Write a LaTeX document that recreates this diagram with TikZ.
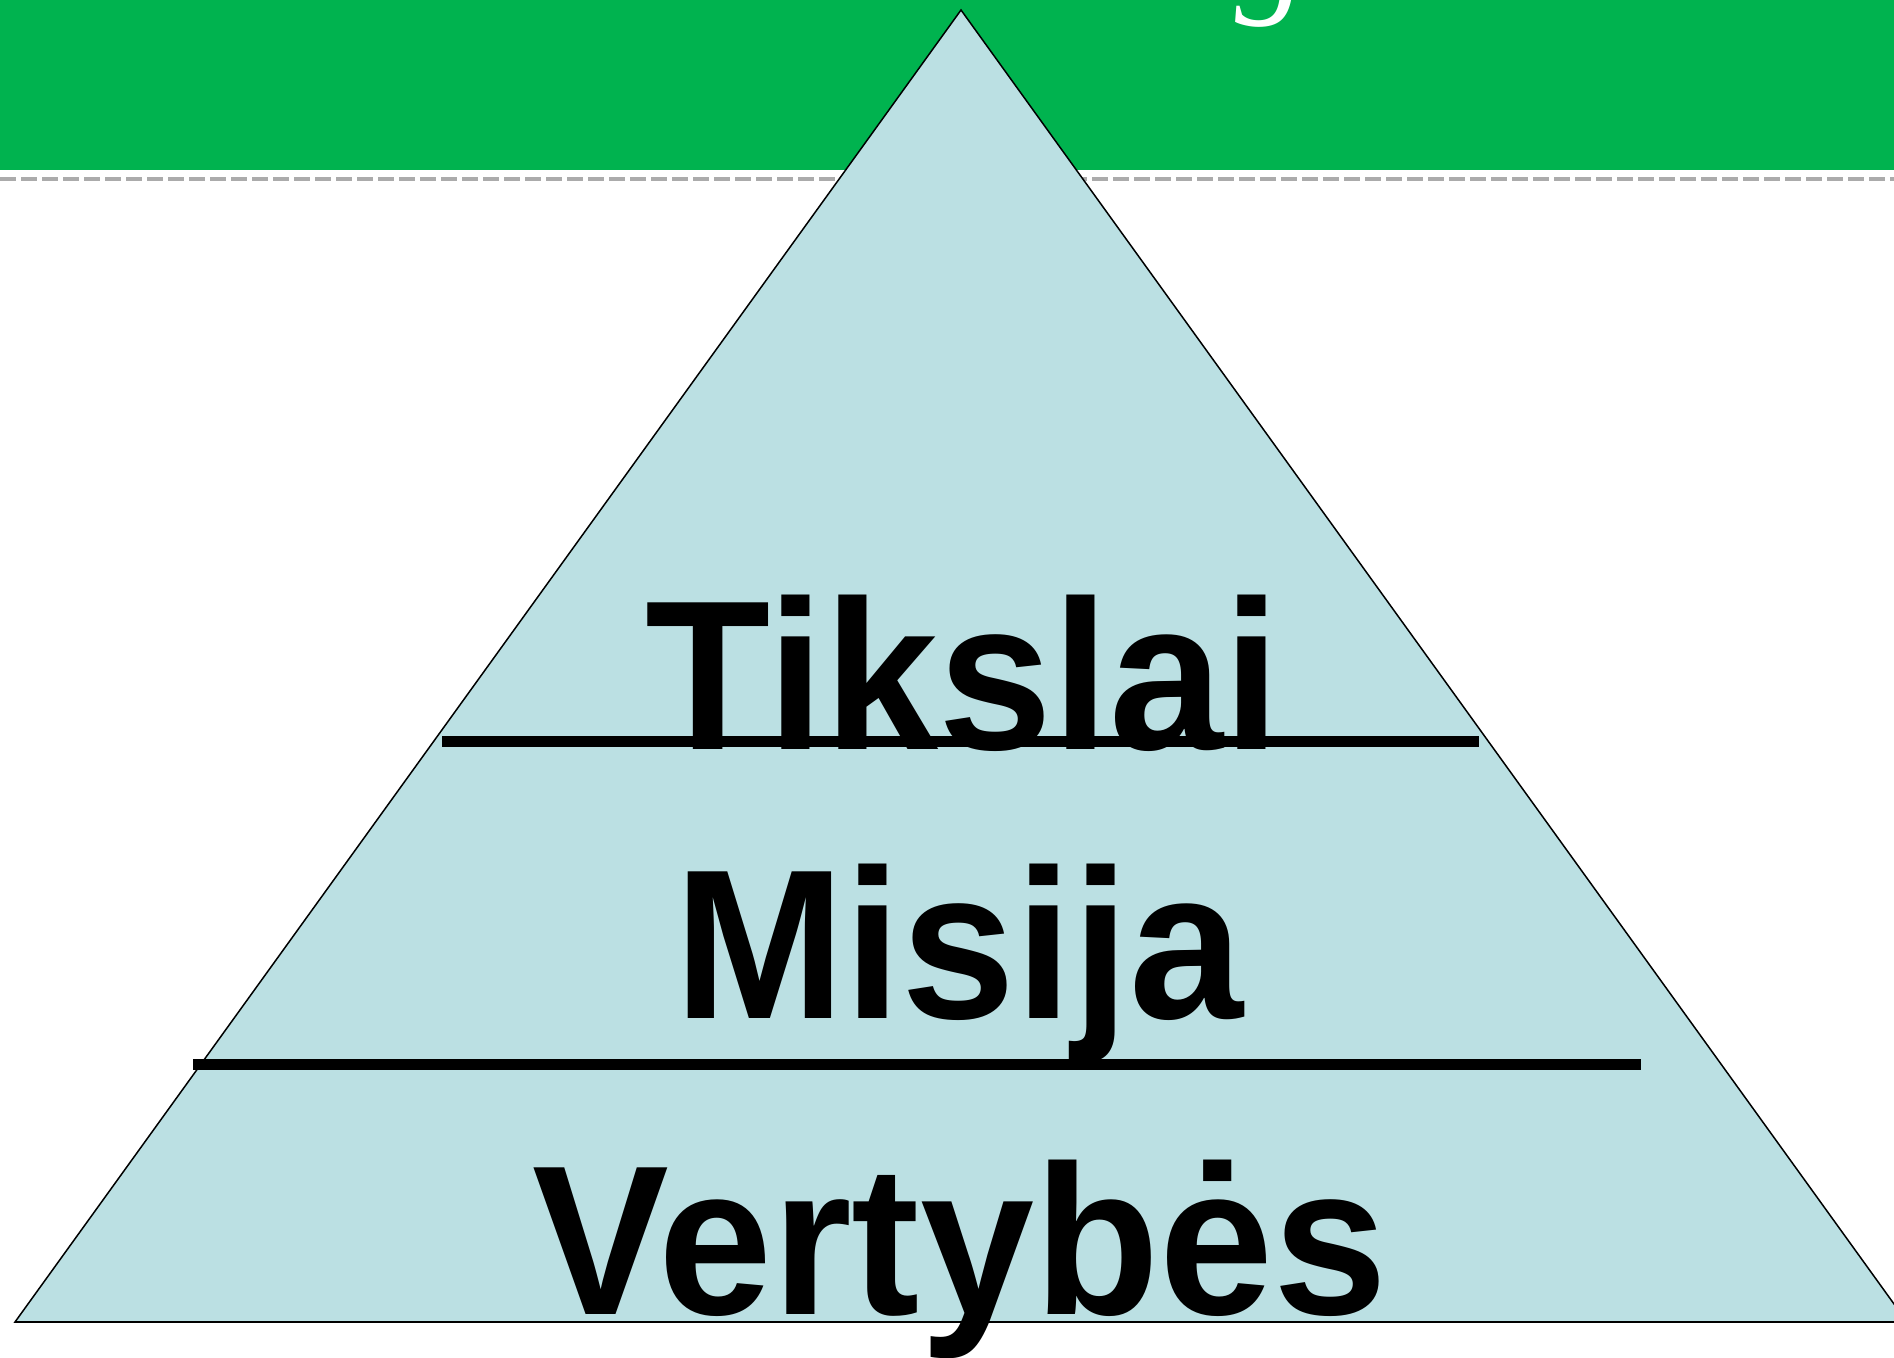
\documentclass[tikz,border=0pt]{standalone}
\usepackage{fontspec}
\setmainfont{Liberation Sans}
\newfontfamily\titlefont{Liberation Serif}
\definecolor{hdrgreen}{HTML}{00B34F}
\definecolor{pyrfill}{HTML}{BBE0E3}
\definecolor{dashgray}{HTML}{ABABAB}
\newcommand{\tallword}[1]{\scalebox{1}[1.04]{#1}}
\begin{document}
\begin{tikzpicture}[x=1pt,y=-1pt,
  levellabel/.style={anchor=base,inner sep=0pt,font=\fontsize{205}{240}\selectfont\bfseries},
  divider/.style={line width=11pt,black}]
\useasboundingbox (0,0) rectangle (1894,1357);
\clip (0,0) rectangle (1894,1357);
\fill[white] (0,0) rectangle (1894,1357);
\fill[hdrgreen] (0,0) rectangle (1894,170);
\draw[dashgray,line width=3.2pt,dash pattern=on 16pt off 5pt] (0,179) -- (1894,179);
\node[text=white,inner sep=0pt,anchor=base,font=\titlefont\itshape\fontsize{145}{165}\selectfont] (titleg) at (1272,-3) {g};
\coordinate (apex) at (961,10);
\coordinate (bl) at (15,1322);
\coordinate (br) at (1907,1322);
\filldraw[fill=pyrfill,draw=black,line width=1.5pt,line join=miter] (apex) -- (bl) -- (br) -- cycle;
\draw[line width=2.5pt] (bl) -- (br);
\coordinate (d1a) at (442,741);
\coordinate (d1b) at (1479,741);
\coordinate (d2a) at (193,1064);
\coordinate (d2b) at (1641,1064);
\draw[divider] (d1a) -- (d1b);
\draw[divider] (d2a) -- (d2b);
\node[levellabel] (tikslai) at (963,749) {\tallword{Tikslai}};
\node[levellabel] (misija) at (959,1018) {\tallword{Misija}};
\node[levellabel] (vertybes) at (960,1314) {\tallword{Vertybės}};
\end{tikzpicture}
\end{document}
